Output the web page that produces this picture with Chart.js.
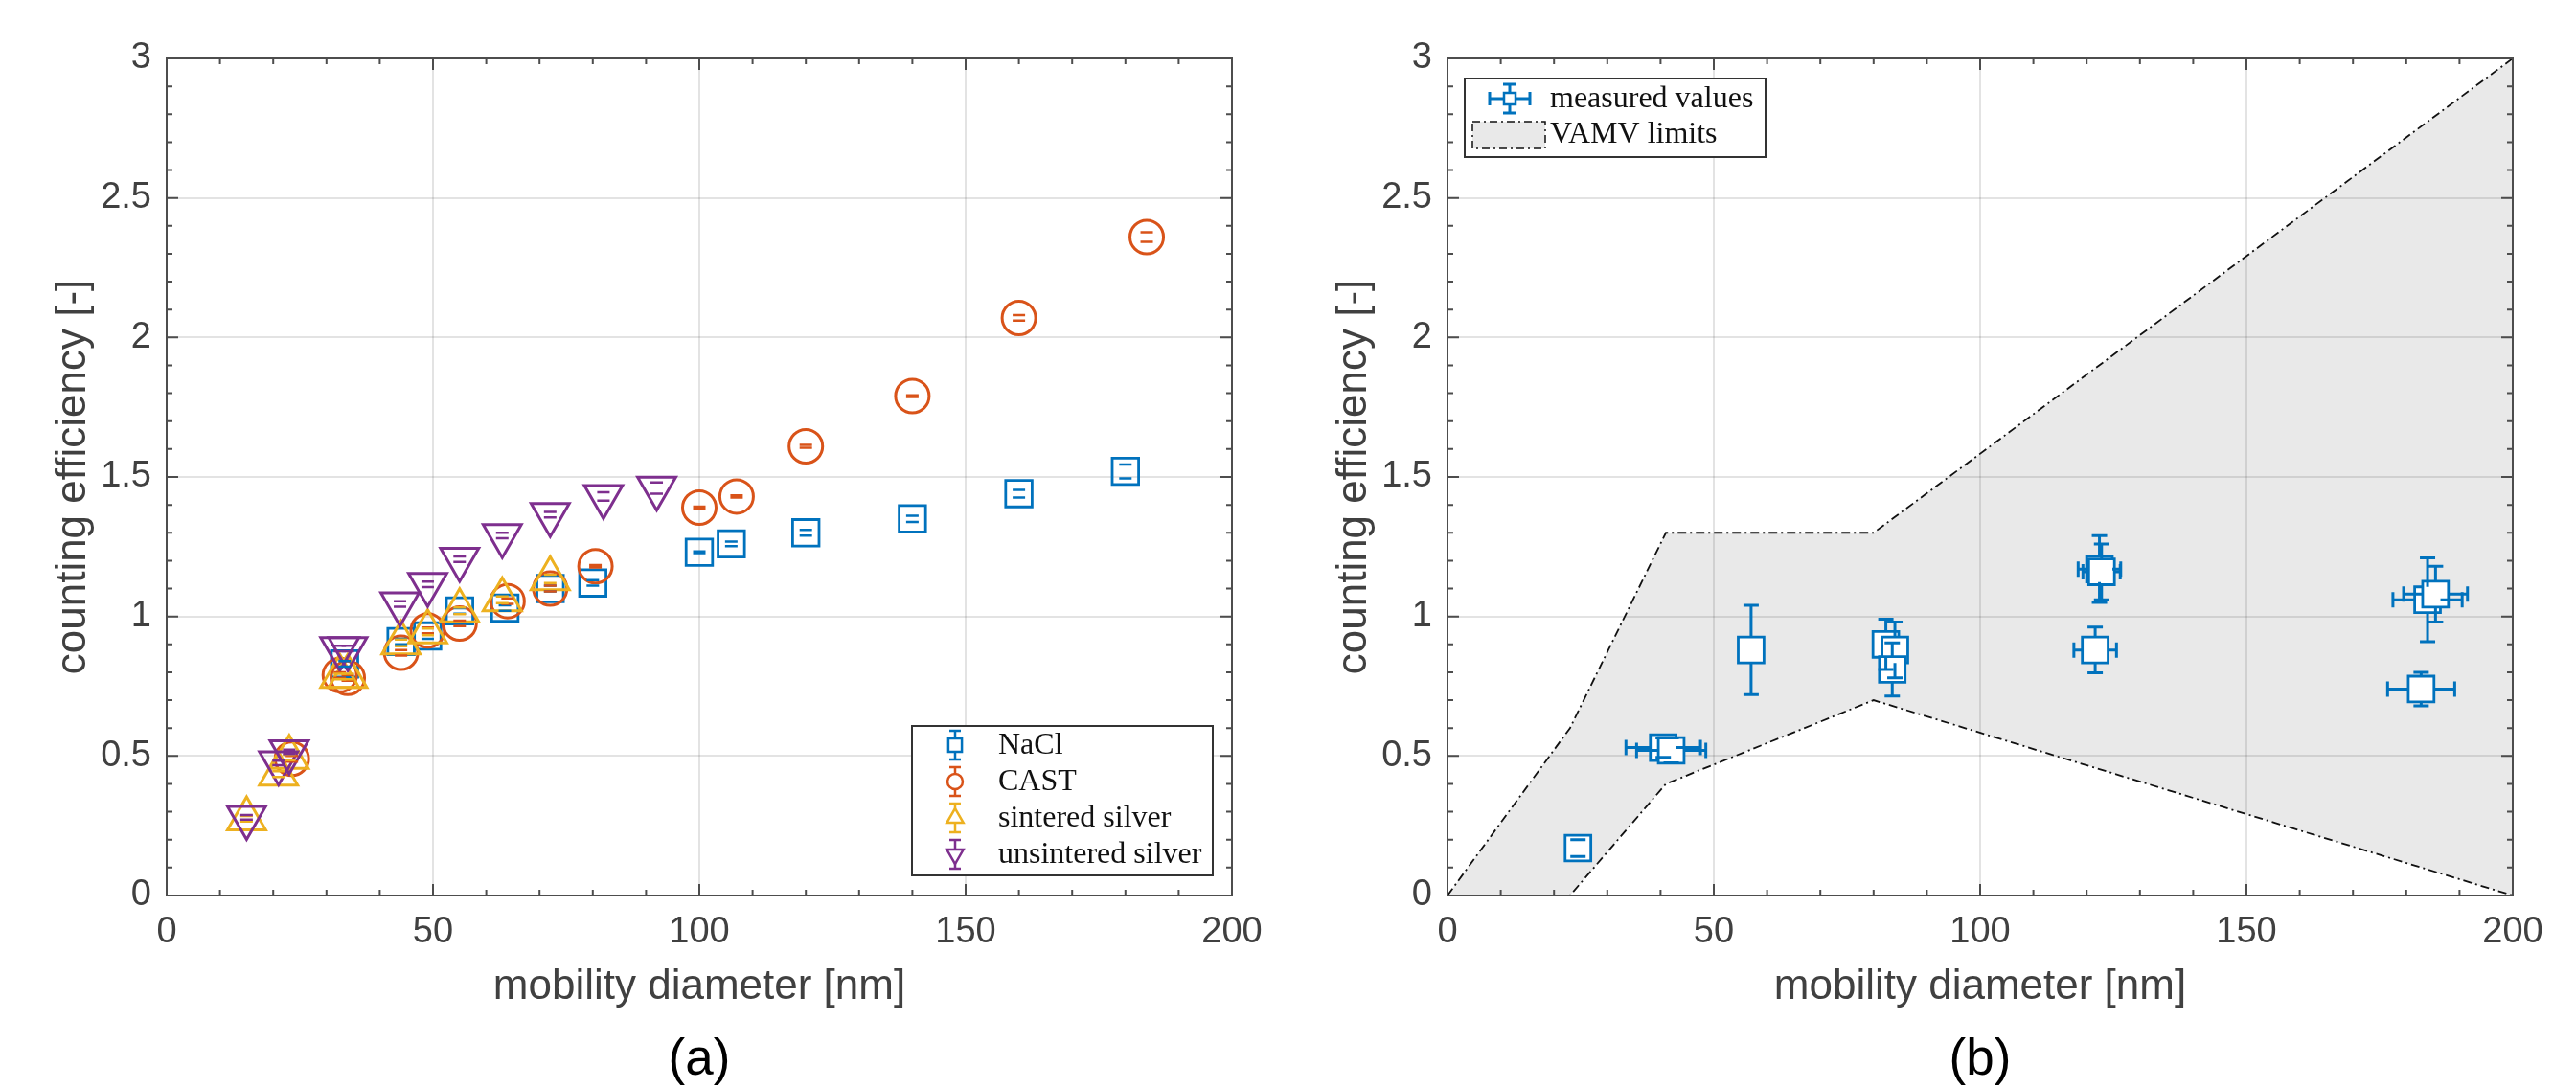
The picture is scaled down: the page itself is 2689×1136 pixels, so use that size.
<!DOCTYPE html>
<html>
<head>
<meta charset="utf-8">
<script src="https://cdn.jsdelivr.net/npm/chart.js@4.4.1/dist/chart.umd.min.js"></script>
<style>
  html, body { margin: 0; padding: 0; background: #fff; }
  body { width: 2689px; height: 1136px; position: relative; overflow: hidden; }
  canvas { position: absolute; top: 0; }
  #chartA { left: 0; width: 1337px; height: 1136px; }
  #chartB { left: 1337px; width: 1352px; height: 1136px; }
  .panel { position: absolute; top: 1077px; width: 1112px; text-align: center;
           font: 53px 'Liberation Sans', Arial, sans-serif; line-height: 53px; color: #000; }
</style>
</head>
<body>
<canvas id="chartA" width="1337" height="1136"></canvas>
<canvas id="chartB" width="1352" height="1136"></canvas>
<div class="panel" style="left:174px">(a)</div>
<div class="panel" style="left:1511px">(b)</div>

<script>
// ---------- panel (a): counting efficiency per material ----------
const naclX   = [33.4, 44, 49, 55, 63.5, 72, 80, 100, 106, 120, 140, 160, 180];
const naclY   = [0.83, 0.91, 0.93, 1.02, 1.03, 1.10, 1.12, 1.23, 1.26, 1.30, 1.35, 1.44, 1.52];
const naclErr = [0.01, 0.01, 0.01, 0.01, 0.01, 0.01, 0.01, 0.003, 0.008, 0.01, 0.011, 0.014, 0.025];

const castX   = [23.5, 32.5, 34, 44, 49, 55, 64, 72, 80.5, 100, 107, 120, 140, 160, 184];
const castY   = [0.49, 0.79, 0.78, 0.87, 0.95, 0.975, 1.055, 1.10, 1.18, 1.39, 1.43, 1.61, 1.79, 2.07, 2.36];
const castErr = [0.01, 0.01, 0.01, 0.01, 0.01, 0.01, 0.01, 0.01, 0.004, 0.004, 0.004, 0.005, 0.003, 0.01, 0.017];

const sintX   = [15, 21, 23, 32.5, 34, 44, 49, 55, 63, 72];
const sintY   = [0.275, 0.435, 0.495, 0.785, 0.785, 0.905, 0.945, 1.02, 1.06, 1.135];
const sintErr = [0.01, 0.01, 0.01, 0.01, 0.01, 0.012, 0.012, 0.012, 0.012, 0.015];

const unsX    = [15, 21, 23, 32.5, 34, 43.8, 49, 55, 63, 72, 82, 92];
const unsY    = [0.28, 0.475, 0.515, 0.885, 0.885, 1.045, 1.115, 1.205, 1.29, 1.365, 1.43, 1.46];
const unsErr  = [0.008, 0.008, 0.008, 0.01, 0.01, 0.01, 0.01, 0.01, 0.01, 0.01, 0.015, 0.02];

// ---------- panel (b): measured values vs VAMV limits ----------
const measX    = [24.5, 40.5, 42, 57, 82.3, 84, 83.5, 122.4, 122.8, 121.6, 184, 185.5, 182.8];
const measY    = [0.17, 0.53, 0.52, 0.88, 0.90, 0.88, 0.81, 1.17, 1.16, 0.88, 1.06, 1.08, 0.74];
const measYErr = [0.03, 0.035, 0.045, 0.16, 0.09, 0.10, 0.095, 0.12, 0.10, 0.082, 0.15, 0.10, 0.06];
const measXErr = [0, 7, 6.5, 0, 0, 0, 0, 4, 3.5, 4, 6.5, 6, 6.3];

const vamvX     = [0, 23, 41, 80, 200];
const vamvUpper = [0, 0.6, 1.3, 1.3, 3.0];
const vamvLower = [0, 0, 0.4, 0.7, 0];

const xRange = [0, 200], xStep = 50, xMinor = 10;
const yRange = [0, 3],   yStep = 0.5, yMinor = 0.1;

const FONT = "'Liberation Sans', Arial, sans-serif";
const SERIF = "'Liberation Serif', 'Times New Roman', serif";
const TXT = '#404040';
const BLUE = '#0072BD', ORANGE = '#D95319', YELLOW = '#EDB120', PURPLE = '#7E2F8E';

function pts(xs, ys, yErr, xErr) {
    return xs.map((x, i) => ({ x: x, y: ys[i], yErr: yErr ? yErr[i] : 0, xErr: xErr ? xErr[i] : 0 }));
}

// error bars: stems only outside the marker, caps always
const errorBars = {
    id: 'errorBars',
    afterDatasetsDraw(chart) {
        const { ctx, scales: { x, y } } = chart;
        chart.data.datasets.forEach((ds, i) => {
            if (!ds.err) return;
            const meta = chart.getDatasetMeta(i);
            const e = ds.err;
            ctx.save();
            ctx.strokeStyle = ds.borderColor;
            ctx.lineWidth = e.width;
            ds.data.forEach((p, j) => {
                const px = meta.data[j].x, py = meta.data[j].y;
                ctx.beginPath();
                if (p.yErr) {
                    const top = y.getPixelForValue(p.y + p.yErr);
                    const bot = y.getPixelForValue(p.y - p.yErr);
                    if (py - top > e.gap) {
                        ctx.moveTo(px, py - e.gap); ctx.lineTo(px, top);
                        ctx.moveTo(px, py + e.gap); ctx.lineTo(px, bot);
                    }
                    ctx.moveTo(px - e.cap, top); ctx.lineTo(px + e.cap, top);
                    ctx.moveTo(px - e.cap, bot); ctx.lineTo(px + e.cap, bot);
                }
                if (p.xErr) {
                    const lft = x.getPixelForValue(p.x - p.xErr);
                    const rgt = x.getPixelForValue(p.x + p.xErr);
                    if (rgt - px > e.gap) {
                        ctx.moveTo(px - e.gap, py); ctx.lineTo(lft, py);
                        ctx.moveTo(px + e.gap, py); ctx.lineTo(rgt, py);
                    }
                    ctx.moveTo(lft, py - e.cap); ctx.lineTo(lft, py + e.cap);
                    ctx.moveTo(rgt, py - e.cap); ctx.lineTo(rgt, py + e.cap);
                }
                ctx.stroke();
            });
            ctx.restore();
        });
    }
};

// matlab style box with inward ticks on all four sides
const axesBox = {
    id: 'axesBox',
    afterDraw(chart) {
        const { ctx, chartArea: a, scales: { x, y } } = chart;
        ctx.save();
        ctx.strokeStyle = '#4d4d4d';
        ctx.lineWidth = 2;
        ctx.beginPath();
        for (let k = 0; k <= (xRange[1] - xRange[0]) / xMinor; k++) {
            const v = xRange[0] + k * xMinor;
            const px = x.getPixelForValue(v);
            const len = (k % (xStep / xMinor) === 0) ? 12 : 6;
            ctx.moveTo(px, a.bottom); ctx.lineTo(px, a.bottom - len);
            ctx.moveTo(px, a.top); ctx.lineTo(px, a.top + len);
        }
        const nY = Math.round((yRange[1] - yRange[0]) / yMinor);
        for (let k = 0; k <= nY; k++) {
            const v = yRange[0] + k * yMinor;
            const py = y.getPixelForValue(v);
            const len = (k % Math.round(yStep / yMinor) === 0) ? 12 : 6;
            ctx.moveTo(a.left, py); ctx.lineTo(a.left + len, py);
            ctx.moveTo(a.right, py); ctx.lineTo(a.right - len, py);
        }
        ctx.stroke();
        ctx.strokeRect(a.left, a.top, a.right - a.left, a.bottom - a.top);
        ctx.restore();
    }
};

function legendFrame(ctx, bx, by, bw, bh) {
    ctx.fillStyle = '#fff';
    ctx.fillRect(bx, by, bw, bh);
    ctx.strokeStyle = '#333';
    ctx.lineWidth = 2;
    ctx.strokeRect(bx, by, bw, bh);
}

const legendA = {
    id: 'legendA',
    afterDraw(chart) {
        const ctx = chart.ctx;
        ctx.save();
        legendFrame(ctx, 952, 758, 314, 156);
        chart.data.datasets.forEach((ds, i) => {
            const cx = 997, cy = 778 + i * 38;
            ctx.strokeStyle = ds.borderColor;
            ctx.lineWidth = 2.5;
            ctx.beginPath();
            ctx.moveTo(cx, cy - 15); ctx.lineTo(cx, cy + 15);
            ctx.moveTo(cx - 6, cy - 15); ctx.lineTo(cx + 6, cy - 15);
            ctx.moveTo(cx - 6, cy + 15); ctx.lineTo(cx + 6, cy + 15);
            ctx.stroke();
            ctx.fillStyle = '#fff';
            Chart.helpers.drawPoint(ctx, {
                pointStyle: ds.pointStyle, rotation: ds.pointRotation || 0,
                radius: ds.legendRadius, borderWidth: 2.5
            }, cx, cy);
            ctx.fillStyle = '#111';
            ctx.font = '32px ' + SERIF;
            ctx.textBaseline = 'middle';
            ctx.textAlign = 'left';
            ctx.fillText(ds.label, 1042, cy + 1);
        });
        ctx.restore();
    }
};

const legendB = {
    id: 'legendB',
    afterDraw(chart) {
        const ctx = chart.ctx;
        ctx.save();
        legendFrame(ctx, 192, 82, 314, 82);
        // measured values glyph
        const cx = 239, cy = 103;
        ctx.strokeStyle = BLUE;
        ctx.lineWidth = 3;
        ctx.beginPath();
        ctx.moveTo(cx - 21, cy); ctx.lineTo(cx + 21, cy);
        ctx.moveTo(cx - 21, cy - 7); ctx.lineTo(cx - 21, cy + 7);
        ctx.moveTo(cx + 21, cy - 7); ctx.lineTo(cx + 21, cy + 7);
        ctx.moveTo(cx, cy - 15); ctx.lineTo(cx, cy + 15);
        ctx.moveTo(cx - 7, cy - 15); ctx.lineTo(cx + 7, cy - 15);
        ctx.moveTo(cx - 7, cy + 15); ctx.lineTo(cx + 7, cy + 15);
        ctx.stroke();
        ctx.fillStyle = '#fff';
        ctx.lineWidth = 2.5;
        ctx.fillRect(cx - 6, cy - 6, 12, 12);
        ctx.strokeRect(cx - 6, cy - 6, 12, 12);
        // VAMV patch glyph
        ctx.fillStyle = '#e9e9e9';
        ctx.fillRect(200, 127, 76, 28);
        ctx.strokeStyle = '#111';
        ctx.lineWidth = 1.5;
        ctx.setLineDash([8, 4, 2, 4]);
        ctx.strokeRect(200, 127, 76, 28);
        ctx.setLineDash([]);
        ctx.fillStyle = '#111';
        ctx.font = '32px ' + SERIF;
        ctx.textBaseline = 'middle';
        ctx.fillText('measured values', 281, 104);
        ctx.fillText('VAMV limits', 281, 141);
        ctx.restore();
    }
};

function axesOptions(padRight) {
    return {
        responsive: false,
        animation: false,
        devicePixelRatio: 1,
        events: [],
        layout: { padding: { left: 0, right: padRight, top: 61, bottom: 0 } },
        plugins: {
            legend: { display: false },
            tooltip: { enabled: false },
            filler: { drawTime: 'beforeDraw' }
        },
        scales: {
            x: {
                type: 'linear', min: xRange[0], max: xRange[1],
                ticks: { stepSize: xStep, color: TXT, font: { family: FONT, size: 38 }, padding: 16, maxRotation: 0,
                         callback: v => String(Number(v)) },
                grid: { color: 'rgba(38,38,38,0.13)', lineWidth: 2, drawTicks: false },
                border: { display: false },
                title: { display: true, text: 'mobility diameter [nm]', color: TXT,
                         font: { family: FONT, size: 44 }, padding: { top: 0, bottom: 79 } },
                afterFit: s => { s.height = 201; }
            },
            y: {
                type: 'linear', min: yRange[0], max: yRange[1],
                ticks: { stepSize: yStep, color: TXT, font: { family: FONT, size: 38 }, padding: 16,
                         callback: v => String(Number(v)) },
                grid: { color: 'rgba(38,38,38,0.13)', lineWidth: 2, drawTicks: false },
                border: { display: false },
                title: { display: true, text: 'counting efficiency [-]', color: TXT,
                         font: { family: FONT, size: 44 }, padding: { top: 50, bottom: 0 } },
                afterFit: s => { s.width = 174; }
            }
        }
    };
}

new Chart(document.getElementById('chartA'), {
    type: 'scatter',
    data: {
        datasets: [
            { label: 'NaCl', data: pts(naclX, naclY, naclErr), order: 4,
              pointStyle: 'rect', pointRadius: 19.5, borderColor: BLUE, backgroundColor: 'transparent',
              borderWidth: 2.8, legendRadius: 10, err: { width: 2.5, gap: 20, cap: 6.5 } },
            { label: 'CAST', data: pts(castX, castY, castErr), order: 3,
              pointStyle: 'circle', pointRadius: 17.5, borderColor: ORANGE, backgroundColor: 'transparent',
              borderWidth: 3, legendRadius: 8, err: { width: 2.5, gap: 18, cap: 6.5 } },
            { label: 'sintered silver', data: pts(sintX, sintY, sintErr), order: 2,
              pointStyle: 'triangle', pointRadius: 23, borderColor: YELLOW, backgroundColor: 'transparent',
              borderWidth: 3, legendRadius: 10, err: { width: 2.5, gap: 22, cap: 6.5 } },
            { label: 'unsintered silver', data: pts(unsX, unsY, unsErr), order: 1,
              pointStyle: 'triangle', pointRotation: 180, pointRadius: 23, borderColor: PURPLE,
              backgroundColor: 'transparent', borderWidth: 3, legendRadius: 10,
              err: { width: 2.5, gap: 22, cap: 6.5 } }
        ]
    },
    options: axesOptions(51),
    plugins: [errorBars, axesBox, legendA]
});

new Chart(document.getElementById('chartB'), {
    type: 'scatter',
    data: {
        datasets: [
            { label: 'VAMV upper', data: pts(vamvX, vamvUpper), showLine: true, pointRadius: 0,
              borderColor: '#111', borderWidth: 1.8, borderDash: [9, 4, 2, 4], tension: 0,
              fill: '+1', backgroundColor: 'rgba(0,0,0,0.085)', order: 2 },
            { label: 'VAMV lower', data: pts(vamvX, vamvLower), showLine: true, pointRadius: 0,
              borderColor: '#111', borderWidth: 1.8, borderDash: [9, 4, 2, 4], tension: 0,
              fill: false, order: 2 },
            { label: 'measured values', data: pts(measX, measY, measYErr, measXErr), order: 0,
              pointStyle: 'rect', pointRadius: 19, borderColor: BLUE, backgroundColor: '#fff',
              borderWidth: 2.8, err: { width: 3, gap: 13.5, cap: 8 } }
        ]
    },
    options: axesOptions(66),
    plugins: [errorBars, axesBox, legendB]
});
</script>
</body>
</html>
